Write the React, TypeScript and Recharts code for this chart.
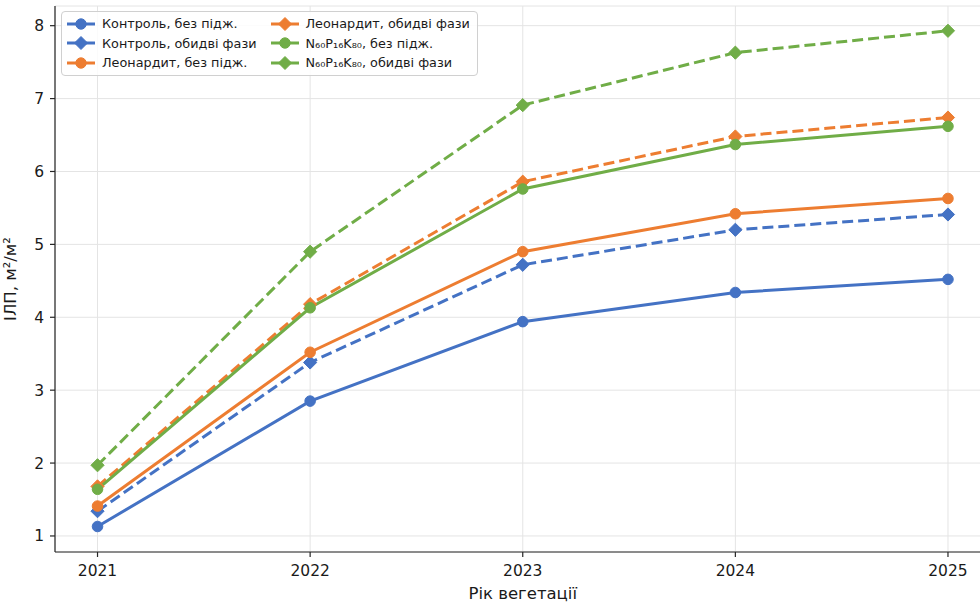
import React from 'react';
import { LineChart, Line, XAxis, YAxis, CartesianGrid, Legend } from 'recharts';

// Leaf area index (ІЛП, м²/м²) by growing season
const years = [2021, 2022, 2023, 2024, 2025];
const controlNoFeed = [1.13, 2.85, 3.94, 4.34, 4.52];
const controlBoth = [1.34, 3.38, 4.72, 5.2, 5.41];
const leonarditNoFeed = [1.41, 3.52, 4.9, 5.42, 5.63];
const leonarditBoth = [1.68, 4.18, 5.86, 6.48, 6.74];
const npkNoFeed = [1.64, 4.13, 5.76, 6.37, 6.62];
const npkBoth = [1.97, 4.9, 6.91, 7.63, 7.93];
const yTicks = [1, 2, 3, 4, 5, 6, 7, 8];

const BLUE = '#4472C4';
const ORANGE = '#ED7D31';
const GREEN = '#70AD47';
const FONT = '"DejaVu Sans", sans-serif';

type Marker = 'circle' | 'diamond';
interface SeriesDef {
  key: string;
  name: string;
  color: string;
  dashed: boolean;
  marker: Marker;
  values: number[];
}

const series: SeriesDef[] = [
  { key: 'controlNoFeed', name: 'Контроль, без підж.', color: BLUE, dashed: false, marker: 'circle', values: controlNoFeed },
  { key: 'controlBoth', name: 'Контроль, обидві фази', color: BLUE, dashed: true, marker: 'diamond', values: controlBoth },
  { key: 'leonarditNoFeed', name: 'Леонардит, без підж.', color: ORANGE, dashed: false, marker: 'circle', values: leonarditNoFeed },
  { key: 'leonarditBoth', name: 'Леонардит, обидві фази', color: ORANGE, dashed: true, marker: 'diamond', values: leonarditBoth },
  { key: 'npkNoFeed', name: 'N₆₀P₁₆K₈₀, без підж.', color: GREEN, dashed: false, marker: 'circle', values: npkNoFeed },
  { key: 'npkBoth', name: 'N₆₀P₁₆K₈₀, обидві фази', color: GREEN, dashed: true, marker: 'diamond', values: npkBoth },
];

const data = years.map((year, i) => {
  const row: Record<string, number> = { year };
  series.forEach((s) => {
    row[s.key] = s.values[i];
  });
  return row;
});

const MarkerShape = ({ cx, cy, color, marker, size }: { cx: number; cy: number; color: string; marker: Marker; size: number }) => {
  if (marker === 'circle') {
    return <circle cx={cx} cy={cy} r={size * 0.8} fill={color} stroke={color} strokeWidth={1} />;
  }
  const h = size;
  return (
    <path
      d={`M${cx},${cy - h} L${cx + h},${cy} L${cx},${cy + h} L${cx - h},${cy} Z`}
      fill={color}
      stroke={color}
      strokeWidth={1}
    />
  );
};

const makeDot = (s: SeriesDef) => (props: any) => {
  const { cx, cy, index } = props;
  if (cx == null || cy == null) return <g key={`${s.key}-${index}`} />;
  return (
    <g key={`${s.key}-${index}`}>
      <MarkerShape cx={cx} cy={cy} color={s.color} marker={s.marker} size={6.6} />
    </g>
  );
};

const LegendBox = () => (
  <div
    style={{
      display: 'grid',
      gridTemplateRows: 'repeat(3, 19.6px)',
      gridAutoFlow: 'column',
      columnGap: 13,
      padding: '2px 7px 2px 4px',
      background: 'rgba(255,255,255,0.85)',
      border: '1px solid #d0d0d0',
      borderRadius: 4,
      fontFamily: FONT,
      fontSize: 12.8,
      color: '#1a1a1a',
      whiteSpace: 'nowrap',
    }}
  >
    {series.map((s) => (
      <div key={s.key} style={{ display: 'flex', alignItems: 'center' }}>
        <svg width={30} height={16} style={{ marginRight: 6, flex: 'none' }}>
          <line x1={1} y1={8} x2={29} y2={8} stroke={s.color} strokeWidth={3} />
          <MarkerShape cx={15} cy={8} color={s.color} marker={s.marker} size={6.5} />
        </svg>
        <span>{s.name}</span>
      </div>
    ))}
  </div>
);

const YTitle = (props: any) => {
  const vb = props.viewBox || { y: 5, height: 547 };
  const cy = vb.y + vb.height / 2;
  const x = 16;
  return (
    <text
      x={x}
      y={cy}
      transform={`rotate(-90, ${x}, ${cy})`}
      textAnchor="middle"
      fontFamily={FONT}
      fontSize={16.5}
      fill="#1a1a1a"
    >
      ІЛП, м²/м²
    </text>
  );
};

export default function App() {
  return (
    <div style={{ position: 'absolute', left: 0, top: 0, width: 980, height: 604, overflow: 'hidden', background: '#fff' }}>
      <LineChart
        width={1000}
        height={604}
        data={data}
        margin={{ top: 6, right: 9.5, bottom: 0, left: 0 }}
        style={{ fontFamily: FONT }}
      >
        <CartesianGrid stroke="#e4e4e4" strokeWidth={1} />
        <XAxis
          dataKey="year"
          type="number"
          domain={[2020.8, 2025.2]}
          ticks={years}
          allowDataOverflow
          height={52}
          stroke="#262626"
          strokeWidth={1.2}
          tickSize={5}
          tickMargin={8}
          tick={{ fill: '#1a1a1a', fontSize: 15.5, fontFamily: FONT }}
          label={{
            value: 'Рік вегетації',
            position: 'insideBottom',
            offset: 5,
            fill: '#1a1a1a',
            fontSize: 16.5,
            fontFamily: FONT,
          }}
        />
        <YAxis
          type="number"
          domain={[0.78, 8.27]}
          ticks={yTicks}
          allowDataOverflow
          width={55}
          stroke="#262626"
          strokeWidth={1.2}
          tickSize={5}
          tickMargin={6}
          tick={{ fill: '#1a1a1a', fontSize: 15.5, fontFamily: FONT }}
          label={<YTitle />}
        />
        <Legend
          layout="horizontal"
          verticalAlign="middle"
          align="center"
          content={() => <LegendBox />}
          wrapperStyle={{ position: 'absolute', left: 61, top: 11, width: 'auto', height: 'auto' }}
        />
        {series.map((s) => (
          <Line
            key={s.key}
            dataKey={s.key}
            name={s.name}
            type="linear"
            stroke={s.color}
            strokeWidth={3}
            strokeDasharray={s.dashed ? '11 5' : undefined}
            dot={makeDot(s)}
            activeDot={false}
            isAnimationActive={false}
          />
        ))}
      </LineChart>
    </div>
  );
}
